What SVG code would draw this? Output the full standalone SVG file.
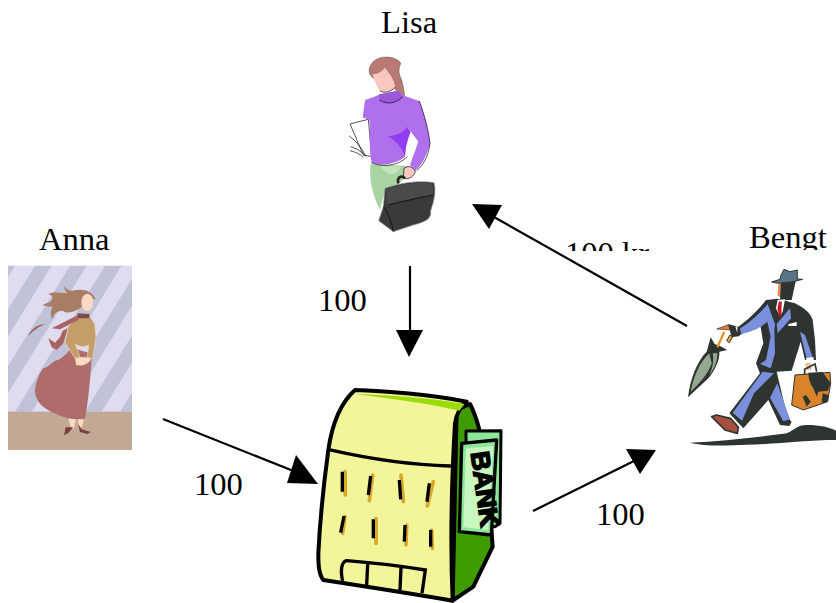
<svg xmlns="http://www.w3.org/2000/svg" width="836" height="603" viewBox="0 0 836 603">
<style>
.t{font-family:"Liberation Serif","Times New Roman",serif;font-size:32.6px;fill:#000}
.c{stroke:#000;stroke-width:2.2;fill:none}
.h{fill:#000}
.bk{stroke:#000;stroke-width:12;stroke-linejoin:round;stroke-linecap:round}
.win{stroke:#000;stroke-width:10;fill:none}
.gold{stroke:#d8a828;stroke-width:11;fill:none;stroke-linecap:round}
.thin{stroke:#000;fill:none;stroke-width:2}
</style>
<defs>
<clipPath id="annaClip"><rect x="24" y="137" width="372" height="553"/></clipPath>
<clipPath id="labelClip"><rect x="540" y="230" width="150" height="21"/></clipPath>
<clipPath id="bengtClip"><rect x="740" y="220" width="96" height="30"/></clipPath>
</defs>
<rect width="836" height="603" fill="#fff"/>

<g id="connectors">
<path class="c" d="M410 266V332"/><path class="h" d="M396 330H423L409 357Z"/>
<path class="c" d="M163 419L296 472"/><path class="h" d="M296 455L287 483L318 484Z"/>
<path class="c" d="M533 511L636 460"/><path class="h" d="M626 449L640 474L656 450Z"/>
<path class="c" d="M687 326L494 217"/><path class="h" d="M472 204L502 205L489 229Z"/>
</g>

<g id="anna">
<text class="t" x="39" y="250">Anna</text>
<g transform="translate(0,220) scale(.33333)">
<rect x="24" y="137" width="372" height="553" fill="#dfdcf0"/>
<g clip-path="url(#annaClip)" fill="#c0c2d8">
<path d="M-5 137H45L-225 575H-275Z"/><path d="M105 137H155L-115 575H-165Z"/><path d="M210 137H260L-10 575H-60Z"/><path d="M315 137H365L95 575H45Z"/><path d="M420 137H470L200 575H150Z"/><path d="M525 137H575L305 575H255Z"/><path d="M630 137H680L410 575H360Z"/>
</g>
<rect x="24" y="575" width="372" height="115" fill="#c2a996"/>
<path fill="#a87d64" d="M286 238C278 212 250 204 215 212C205 212 195 205 192 198C192 208 197 214 203 218C185 222 165 213 145 222C155 225 162 232 154 242C147 250 135 248 128 256C142 258 150 262 158 260C152 272 150 285 158 297C160 280 172 272 188 272C205 285 228 272 245 262L250 232Z"/>
<ellipse cx="262" cy="247" rx="18" ry="26" fill="#fbd9c2"/>
<path fill="#b06c6c" d="M215 378C235 392 255 395 276 400C272 470 265 540 255 598C225 600 190 595 165 580C140 570 108 552 105 515C105 490 118 460 130 445C150 440 160 420 175 420C190 410 205 400 215 378Z"/>
<path fill="#fbd9c2" d="M205 596L228 598L222 625L215 628ZM234 598L252 598L246 622L236 622Z"/>
<path fill="#7c3f3f" d="M197 622L220 622L204 640L192 645ZM234 612L245 628L272 636L262 642L240 636Z"/>
<path fill="#c49d68" stroke="#e8d8c8" stroke-width="2" d="M235 290L270 290L284 312L288 350L278 416L262 412L266 375C250 385 235 378 226 372L232 388L240 412L226 416L195 368L205 320Z"/>
<path fill="#fbd9c2" stroke="#c49d68" d="M225 415C238 410 265 410 274 416C267 432 242 442 228 434Z"/>
<path fill="#7c4a4a" d="M232 280L268 282L268 295L235 295Z"/>
<path fill="#a86464" d="M234 285L155 325L180 328L235 300ZM188 332L203 325L190 370L170 390L155 382L145 355L165 368L180 352Z"/>
<path fill="#a86464" d="M84 347C95 325 115 312 137 312C115 320 105 330 84 347Z"/>
</g>
</g>

<g id="lisa">
<text class="t" x="381" y="33">Lisa</text>
<g transform="translate(330,0) scale(.33333)">
<path d="M60 372L115 358L125 470L100 465Z" fill="#fff" stroke="#000" stroke-width="2"/>
<path class="thin" d="M58 408C80 425 95 445 105 465M62 440C80 445 95 455 108 470M60 452C75 455 90 462 100 472"/>
<path fill="#a8d4a4" d="M122 492L235 498C238 530 200 560 160 590L150 630C130 590 115 540 122 492Z"/>
<path fill="#c4e4bc" d="M150 498L212 500C200 525 175 535 150 498Z"/>
<path fill="#b87a72" stroke="#555" stroke-width="1.5" d="M118 205C125 180 150 168 180 172C200 175 212 185 212 192C205 205 205 220 215 240C220 260 222 275 224 287C210 287 195 275 190 250L165 220L135 238C122 230 115 220 118 205Z"/>
<path fill="#f8c8c0" d="M128 222C142 224 155 214 165 203C182 225 193 240 196 262C182 275 165 282 150 272C140 260 132 240 128 222Z"/>
<path fill="none" stroke="#000" stroke-width="2" d="M150 272C165 282 182 275 196 262"/>
<path fill="#b070ee" d="M105 300C125 295 140 288 150 283L205 272L222 287L268 303C285 350 295 390 300 430C290 470 272 500 256 512L240 495L265 425L232 380L225 470C200 490 160 500 125 488C115 440 122 400 118 360L98 352Z"/>
<path fill="#9040f0" d="M172 408C200 408 222 395 232 380L242 395C232 420 226 445 225 468C215 440 195 420 172 408Z"/>
<path fill="#9b58d8" d="M148 283L205 272L218 290C195 310 165 312 148 298Z"/>
<path class="thin" d="M125 488C150 500 200 502 232 470M148 300C170 315 200 310 218 290M268 303C285 350 295 390 300 430C295 470 280 495 260 512"/>
<path fill="#f8c8c0" stroke="#000" stroke-width="2" d="M222 505C235 495 250 500 256 515C252 530 235 540 220 535Z"/>
<path fill="none" stroke="#222" stroke-width="8" d="M205 550C200 530 215 525 225 535"/>
<path fill="#3a3a3a" stroke="#999" stroke-width="2" d="M165 565C210 548 270 540 312 548C320 575 310 610 302 632C305 655 290 665 250 675L190 695L146 662L160 620Z"/>
<path fill="#4a4a4a" d="M168 568C215 550 270 545 308 552L310 585C260 590 210 605 170 615Z"/>
<path class="thin" stroke="#111" d="M160 620C175 640 185 665 190 695M175 615C215 605 260 595 310 585"/>
</g>
</g>

<g id="bank">
<g transform="translate(300,380) scale(.33333)">
<path fill="#3f9c00" class="bk" d="M470 90L510 72C530 110 545 160 560 260L578 500L520 620L458 662Z"/>
<path fill="#f2f59a" class="bk" d="M165 30C250 32 400 45 500 65C480 80 470 100 465 130C455 300 450 480 458 662C330 640 200 620 70 600C55 580 55 550 55 520C60 420 70 320 85 210C95 140 120 70 165 30Z"/>
<path fill="#9adb0a" d="M165 42C270 45 400 55 494 72L478 92C380 70 270 55 165 42Z"/>
<path fill="none" stroke="#000" stroke-width="10" stroke-linecap="round" d="M90 210C200 235 320 255 450 258"/>
<path class="gold" d="M135 275L136 345M218 285L208 362M303 285L310 365M400 305L382 378M135 410L128 460M228 415L228 490M320 435L318 495M395 450L397 505"/>
<path class="win" d="M127 275L127 335M212 288L205 345M298 300L302 358M388 310L381 365M132 408L122 458M220 418L220 475M315 435L313 485M392 450L392 500"/>
<path class="win" d="M128 603C120 570 125 545 140 542C220 548 300 558 376 570L366 640M203 552L200 615M303 562L300 630"/>
<path fill="#8ee69a" stroke="#000" stroke-width="9" stroke-linejoin="round" d="M498 153L603 152L600 430L585 440L500 430Z"/>
<path fill="#8ee69a" stroke="#000" stroke-width="10" stroke-linejoin="round" d="M485 190L590 180L574 465L478 455Z"/>
<path fill="#c8f8c0" d="M498 205L580 198L564 450L490 442Z"/>
<text transform="translate(512,218) rotate(82)" font-family="'Liberation Sans',Arial,sans-serif" font-weight="700" font-size="78" textLength="228" lengthAdjust="spacingAndGlyphs" fill="#000" stroke="#000" stroke-width="5">BANK</text>
</g>
</g>

<g id="bengt">
<g clip-path="url(#bengtClip)"><text class="t" x="749" y="248">Bengt</text></g>
<g transform="translate(680,220) scale(.33333)">
<path fill="#2e3530" d="M30 668C120 665 250 650 320 640C345 630 350 615 380 615C420 615 450 622 468 632V660C380 660 300 672 200 674C130 678 70 678 30 668Z"/>
<path fill="#2e3530" d="M24 532C30 480 50 425 80 395L92 352L104 372L120 378L142 390L118 395C120 420 105 450 85 475Z"/>
<path fill="#94a890" d="M32 515C40 470 60 425 88 400L95 430C85 460 60 490 32 515Z"/>
<path fill="#94a890" d="M98 400L112 400C112 430 100 450 88 465C100 440 102 420 98 400Z"/>
<path stroke="#e8902c" stroke-width="7" fill="none" d="M133 335L112 382"/>
<path fill="#e87838" stroke="#2e3530" stroke-width="2" d="M110 327L145 314L150 330Z"/>
<path fill="#e8a040" stroke="#2e3530" stroke-width="3" d="M150 345L158 350L148 368L140 362Z"/>
<path fill="#2e3530" d="M145 312L178 322L178 348L155 352Z"/>
<path fill="#fff" d="M166 320L178 318L180 335L172 338Z"/>
<path fill="#2e3530" d="M258 240L292 236L345 250C375 265 392 280 398 300L405 360L408 420L375 420L362 365L335 452L290 455L322 590L335 606L328 618L300 615L265 540L190 625L148 580L240 460L228 430L250 370L240 310L172 350L172 322C205 300 235 270 258 240Z"/>
<path fill="#f08850" d="M296 190L305 190L302 232L292 226Z"/>
<path fill="#2e3530" d="M303 185L348 180L335 240L300 240Z"/>
<path fill="#5c7488" stroke="#2e3530" stroke-width="3" d="M303 165L312 148L330 155L352 150L352 177L368 178L340 185L295 190L275 186L300 178Z"/>
<path fill="#7a90dc" d="M263 252C235 285 205 310 180 325L183 342C215 335 240 325 262 305L272 350L258 420L240 432L272 445L285 400L283 330L285 312Z"/>
<path fill="#7a90dc" d="M330 265L333 295L293 340L290 312Z"/>
<path fill="#fff" d="M293 240L315 238L308 275L300 290L288 265Z"/>
<path fill="#e01020" stroke="#2e3530" d="M297 245L305 245L304 262L304 285L298 295L293 265Z"/>
<path fill="#fff" d="M325 312L350 306L350 318L325 318Z"/>
<path fill="#7a90dc" d="M360 335L375 345L398 412L380 415Z"/>
<path fill="#fff" d="M378 414L400 411L402 424L380 426Z"/>
<path fill="#7a90dc" d="M248 455L282 460L222 520L186 602L158 578ZM270 533L292 490L330 598L310 604Z"/>
<path fill="#f0c090" d="M375 430L392 428L395 450L380 450Z"/>
<path fill="none" stroke="#2e3530" stroke-width="5" d="M374 465V448L405 432L410 455"/>
<path fill="#a85040" stroke="#2e3530" stroke-width="5" stroke-linejoin="round" d="M95 590L110 585L153 596L175 622L172 640L135 630Z"/>
<path fill="#d9842a" stroke="#2e3530" stroke-width="3" d="M345 465L450 457L452 490L443 545L370 570L335 555Z"/>
<path fill="#2e3530" d="M385 458L428 456L452 490L443 512L415 515L410 530L400 505C390 490 385 475 385 458ZM368 530L380 560L392 545L378 525ZM428 520L445 525L443 545L425 548Z"/>
</g>
</g>

<g id="labels">
<text class="t" x="318" y="311">100</text>
<text class="t" x="194" y="495">100</text>
<text class="t" x="596" y="525">100</text>
<g clip-path="url(#labelClip)"><text class="t" x="565" y="264">100 kr</text></g>
</g>
</svg>
